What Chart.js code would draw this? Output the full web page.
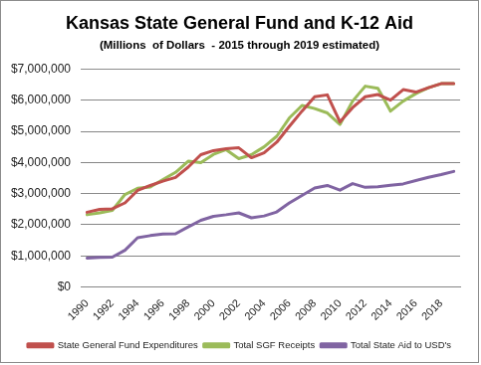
<!DOCTYPE html>
<html lang="en">
  <head>
    <title>Kansas State General Fund and K-12 Aid</title>
    <style>
      body { margin: 0; background: #fff; }
      #chart { display: block; border: 1px solid #8c8c8c; }
    </style>
  </head>
  <body>
    <canvas id="chart" width="479" height="363"></canvas>
    <script src="https://cdn.jsdelivr.net/npm/chart.js"></script>
    <script>
      let years = [];
      for (let y = 1990; y <= 2019; y++) years.push(String(y));

      let expenditures = [
        2400000, 2490000, 2510000, 2700000, 3100000, 3260000, 3400000, 3520000, 3850000, 4250000,
        4380000, 4440000, 4470000, 4150000, 4310000, 4650000, 5160000, 5650000, 6110000, 6170000,
        5300000, 5760000, 6110000, 6180000, 6000000, 6340000, 6260000, 6400000, 6530000, 6530000
      ];
      let receipts = [
        2320000, 2380000, 2460000, 2970000, 3170000, 3210000, 3450000, 3680000, 4040000, 3990000,
        4260000, 4410000, 4120000, 4250000, 4500000, 4840000, 5430000, 5830000, 5730000, 5590000,
        5220000, 5970000, 6450000, 6380000, 5650000, 5970000, 6210000, 6400000, 6530000, 6530000
      ];
      let stateAid = [
        930000, 950000, 960000, 1180000, 1580000, 1650000, 1700000, 1710000, 1930000, 2140000,
        2270000, 2320000, 2380000, 2220000, 2280000, 2410000, 2700000, 2940000, 3180000, 3260000,
        3110000, 3320000, 3200000, 3220000, 3270000, 3310000, 3420000, 3520000, 3610000, 3710000
      ];

      let font = "'Liberation Sans', Arial, sans-serif";
      let gridColor = "#868686";

      new Chart(document.getElementById("chart"), {
        type: "line",
        data: {
          labels: years,
          datasets: [
            { label: "State General Fund Expenditures", data: expenditures, borderColor: "#c0504d", backgroundColor: "#c0504d" },
            { label: "Total SGF Receipts", data: receipts, borderColor: "#9bbb59", backgroundColor: "#9bbb59" },
            { label: "Total State Aid to USD's", data: stateAid, borderColor: "#8064a2", backgroundColor: "#8064a2" },
          ],
        },
        options: {
          responsive: false,
          animation: false,
          elements: {
            line: { borderWidth: 3, tension: 0, fill: false, borderJoinStyle: "round", borderCapStyle: "round" },
            point: { radius: 0, hoverRadius: 0 },
          },
          layout: { padding: { left: 0, right: 0, top: 8, bottom: 2 } },
          scales: {
            x: {
              offset: true,
              afterFit: function (scale) { scale.height = 48; },
              grid: { display: false },
              border: { color: gridColor },
              ticks: {
                autoSkip: false,
                maxRotation: 45,
                minRotation: 45,
                padding: 2,
                color: "#222",
                font: { family: font, size: 11 },
                callback: function (value, index) {
                  return index % 2 === 0 ? this.getLabelForValue(value) : "";
                },
              },
            },
            y: {
              min: 0,
              max: 7000000,
              afterFit: function (scale) { scale.width = 80; },
              grid: { color: gridColor, drawTicks: false },
              border: { display: false },
              ticks: {
                stepSize: 1000000,
                padding: 10,
                color: "#222",
                font: { family: font, size: 12 },
                callback: function (value) {
                  return "$" + value.toLocaleString("en-US");
                },
              },
            },
            // empty right-hand spacer so title and legend stay centred on the canvas
            spacer: {
              position: "right",
              afterFit: function (scale) { scale.width = 18; },
              grid: { display: false },
              border: { display: false },
              ticks: { display: false },
            },
          },
          plugins: {
            title: {
              display: true,
              text: "Kansas State General Fund and K-12 Aid",
              color: "#000",
              font: { family: font, size: 18, weight: "bold" },
              padding: { top: 4, bottom: 4 },
            },
            subtitle: {
              display: true,
              text: "(Millions  of Dollars  - 2015 through 2019 estimated)",
              color: "#000",
              font: { family: font, size: 11.5, weight: "bold" },
              padding: { top: 0, bottom: 17 },
            },
            legend: {
              position: "bottom",
              labels: {
                boxWidth: 25,
                boxHeight: 3,
                padding: 6,
                color: "#222",
                font: { family: font, size: 9.5 },
              },
            },
            tooltip: { enabled: false },
          },
        },
      });
    </script>
  </body>
</html>
